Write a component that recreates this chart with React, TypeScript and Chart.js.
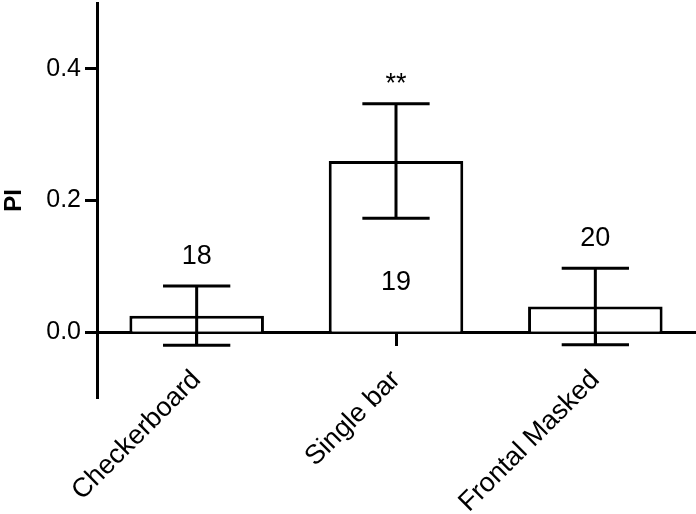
import React, { useEffect, useRef } from "react";
import { Chart, registerables } from "chart.js";

Chart.register(...registerables);

const categories = ["Checkerboard", "Single bar", "Frontal Masked"];
const means = [0.025, 0.26, 0.039];
const sems = [0.045, 0.087, 0.058];
const nLabels = ["18", "19", "20"];
const nInside = [false, true, false];
const sigLabels = ["", "**", ""];
const yTickValues = [0, 0.2, 0.4];
const yMin = -0.1;
const yMax = 0.5;

const FONT = "'Liberation Sans', Arial, Helvetica, sans-serif";

const errorBarPlugin = {
  id: "errorBars",
  afterDatasetsDraw(chart: any) {
    const ctx = chart.ctx;
    const meta = chart.getDatasetMeta(0);
    const ys = chart.scales.y;
    ctx.save();
    ctx.strokeStyle = "#000";
    ctx.lineWidth = 3;
    ctx.lineCap = "butt";
    meta.data.forEach((bar: any, i: number) => {
      const x = bar.x;
      const top = ys.getPixelForValue(means[i] + sems[i]);
      const bot = ys.getPixelForValue(means[i] - sems[i]);
      const hw = bar.width * 0.25;
      ctx.beginPath();
      ctx.moveTo(x, top);
      ctx.lineTo(x, bot);
      ctx.moveTo(x - hw, top);
      ctx.lineTo(x + hw, top);
      ctx.moveTo(x - hw, bot);
      ctx.lineTo(x + hw, bot);
      ctx.stroke();
    });
    ctx.fillStyle = "#000";
    ctx.textAlign = "center";
    ctx.textBaseline = "middle";
    ctx.font = `27px ${FONT}`;
    meta.data.forEach((bar: any, i: number) => {
      const x = bar.x;
      const top = ys.getPixelForValue(means[i] + sems[i]);
      const bot = ys.getPixelForValue(means[i] - sems[i]);
      const base = ys.getPixelForValue(0);
      if (nInside[i]) {
        ctx.fillText(nLabels[i], x, (base + bot) / 2 + 7);
      } else {
        ctx.fillText(nLabels[i], x, top - 30);
      }
      if (sigLabels[i]) {
        ctx.fillText(sigLabels[i], x, top - 19);
      }
    });
    ctx.restore();
  },
};

export default function App() {
  const ref = useRef<HTMLCanvasElement | null>(null);
  useEffect(() => {
    document.body.style.margin = "0";
    Chart.defaults.color = "#000";
    Chart.defaults.font.family = FONT;
    const chart = new Chart(ref.current as HTMLCanvasElement, {
      type: "bar",
      data: {
        labels: categories,
        datasets: [
          {
            data: means,
            backgroundColor: "#fff",
            borderColor: "#000",
            borderWidth: 3,
            borderSkipped: "start",
            categoryPercentage: 1,
            barPercentage: 0.675,
          },
        ],
      },
      options: {
        animation: false,
        responsive: true,
        maintainAspectRatio: false,
        layout: { padding: { top: 3, right: 1, bottom: 116, left: 0 } },
        plugins: {
          legend: { display: false },
          tooltip: { enabled: false },
        },
        scales: {
          x: {
            type: "category",
            position: { y: 0 } as any,
            z: 1,
            offset: true,
            afterFit(scale: any) {
              scale.paddingLeft = 0;
              scale.paddingRight = 0;
            },
            grid: {
              display: true,
              drawOnChartArea: false,
              drawTicks: true,
              tickLength: 12,
              tickWidth: 3,
              tickColor: "#000",
              offset: false,
            },
            border: { display: true, color: "#000", width: 3 },
            ticks: {
              minRotation: 45,
              maxRotation: 45,
              padding: 20,
              font: { size: 27, family: FONT },
              color: "#000",
            },
          },
          y: {
            type: "linear",
            position: "left",
            min: yMin,
            max: yMax,
            afterFit(scale: any) {
              scale.width = 97;
              scale.paddingTop = 0;
              scale.paddingBottom = 0;
            },
            afterBuildTicks(scale: any) {
              scale.ticks = yTickValues.map((v) => ({ value: v }));
            },
            grid: {
              display: true,
              drawOnChartArea: false,
              drawTicks: true,
              tickLength: 12,
              tickWidth: 3,
              tickColor: "#000",
            },
            border: { display: true, color: "#000", width: 3 },
            ticks: {
              padding: 4,
              font: { size: 25, family: FONT },
              color: "#000",
              callback: (v: any) => Number(v).toFixed(1),
            },
            title: {
              display: true,
              text: "PI",
              color: "#000",
              font: { size: 24, weight: "bold", family: FONT },
              padding: 0,
            },
          },
        },
      },
      plugins: [errorBarPlugin],
    });
    return () => chart.destroy();
  }, []);
  return (
    <div style={{ position: "fixed", left: 0, top: 0, width: 696, height: 514 }}>
      <canvas ref={ref} />
    </div>
  );
}
